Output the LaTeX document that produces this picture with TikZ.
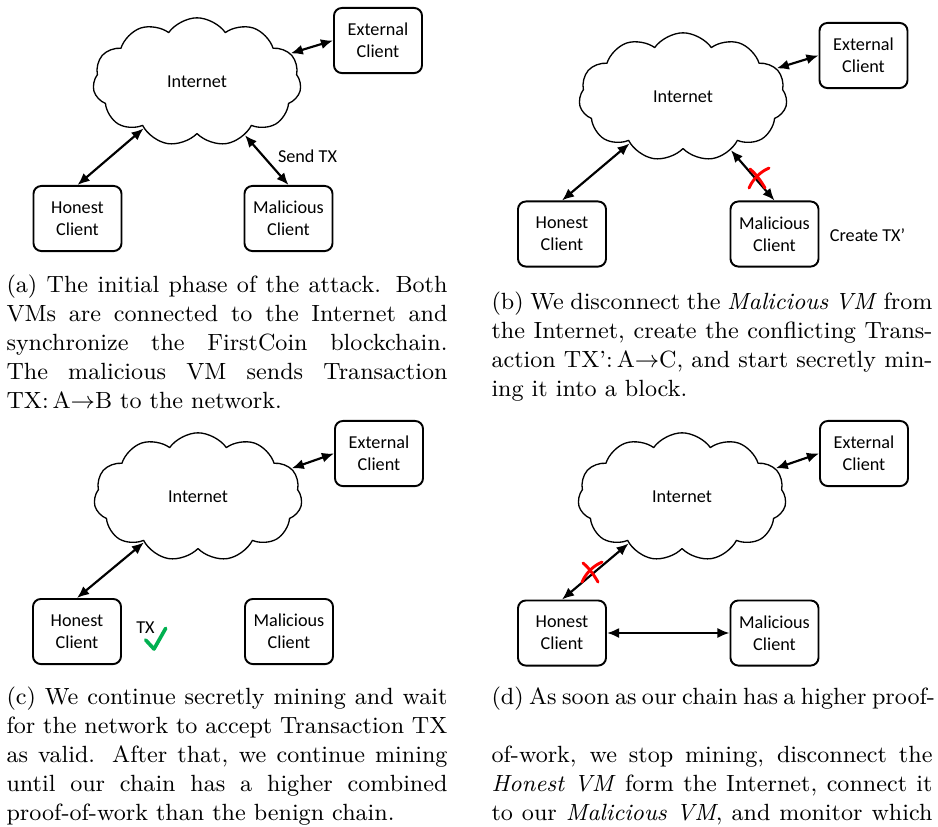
\documentclass[tikz,border=0pt]{standalone}
\usepackage{fontspec}
\newfontfamily\diafont{Carlito}
\usetikzlibrary{shapes.symbols,arrows.meta}
\definecolor{okgreen}{RGB}{0,176,80}
\definecolor{nogo}{RGB}{255,0,0}

\tikzset{
  client/.style={draw,line width=0.73pt,rounded corners=3pt,minimum width=33.4pt,minimum height=24.7pt,
    align=center,inner sep=0pt,font=\diafont\fontsize{6.9}{8.3}\selectfont},
  net/.style={cloud,draw,line width=0.5pt,cloud puffs=11,cloud puff arc=110,cloud ignores aspect,
    minimum width=79pt,minimum height=48.7pt,inner sep=0pt,font=\diafont\fontsize{6.9}{8.3}\selectfont},
  link/.style={{Latex[length=4.6pt,width=3.85pt]}-{Latex[length=4.6pt,width=3.85pt]},line width=0.82pt},
  lbl/.style={inner sep=0pt,font=\diafont\fontsize{6.9}{8.3}\selectfont},
  subcap/.style={anchor=north west,inner sep=0pt,text width=167.3pt,align=justify,font=\fontsize{8.9}{11}\selectfont},
  cross/.style={color=nogo,line width=1.1pt,line cap=round},
  tick/.style={color=okgreen,line width=1.38pt}
}

\begin{document}
\begin{tikzpicture}[line cap=round,line join=round,x=0.3794pt,y=-0.3794pt]
  \useasboundingbox (0,0) rectangle (938,826);
  % (a)
  \node[net] (cloudA) at (197,82) {Internet};
  \node[client] (extA) at (378,40.5) {External\\Client};
  \node[client] (honA) at (77.5,218.5) {Honest\\Client};
  \node[client] (malA) at (288.5,218.5) {Malicious\\Client};
  \draw[link] (honA.north) -- (cloudA.221);
  \draw[link] (malA.north) -- (cloudA.312);
  \draw[link] (cloudA.17) -- (extA.west);
  \node[lbl] (sendtx) at (307.5,156.7) {Send TX};
  \node[subcap] (capA) at (6,271.5) {\strut(a) The initial phase of the attack. Both\linebreak
    VMs are connected to the Internet and\linebreak synchronize the FirstCoin blockchain.\linebreak
    The malicious VM sends Transaction\linebreak TX:\,A$\rightarrow$B to the network.};
  % (b)
  \node[net] (cloudB) at (683,97) {Internet};
  \node[client] (extB) at (863.5,55.5) {External\\Client};
  \node[client] (honB) at (562,234) {Honest\\Client};
  \node[client] (malB) at (774.5,234) {Malicious\\Client};
  \draw[link] (honB.north) -- (cloudB.221);
  \draw[link] (malB.north) -- (cloudB.312);
  \draw[link] (cloudB.17) -- (extB.west);
  \node[lbl] (createtx) at (867.5,235) {Create TX’};
  \draw[cross,shift={(758,178)}] (-8,-9) .. controls (-2,-4) and (3,3) .. (7,10);
  \draw[cross,shift={(758,178)}] (-9,10) .. controls (-5,1) and (2,-6) .. (11,-10);
  \node[subcap] (capB) at (491,288.2) {\strut(b) We disconnect the \emph{Malicious VM} from\linebreak
    the Internet, create the conflicting Trans-\linebreak action TX':\,A$\rightarrow$C, and start secretly min-\linebreak
    ing it into a block.};
  % (c)
  \node[net] (cloudC) at (198,497) {Internet};
  \node[client] (extC) at (379,453.5) {External\\Client};
  \node[client] (honC) at (77,631.5) {Honest\\Client};
  \node[client] (malC) at (289,631.5) {Malicious\\Client};
  \draw[link] (honC.north) -- (cloudC.220);
  \draw[link] (cloudC.17) -- (extC.west);
  \node[lbl] (txok) at (145.5,627.5) {TX};
  \draw[tick] (145.7,640) -- (154,649) -- (165.7,628.3);
  \node[subcap] (capC) at (6,683.2) {\strut(c) We continue secretly mining and wait\linebreak
    for the network to accept Transaction TX\linebreak as valid. After that, we continue mining\linebreak
    until our chain has a higher combined\linebreak proof-of-work than the benign chain.};
  % (d)
  \node[net] (cloudD) at (682,497) {Internet};
  \node[client] (extD) at (864,453.5) {External\\Client};
  \node[client] (honD) at (562,633) {Honest\\Client};
  \node[client] (malD) at (774.5,633) {Malicious\\Client};
  \draw[link] (honD.north) -- (cloudD.221);
  \draw[link] (cloudD.17) -- (extD.west);
  \draw[link] (honD.east) -- (malD.west);
  \draw[cross,shift={(591,572)}] (-8,-9) .. controls (-2,-4) and (3,3) .. (7,10);
  \draw[cross,shift={(591,572)}] (-9,10) .. controls (-5,1) and (2,-6) .. (11,-10);
  \node[subcap] (capD) at (491,683.2) {\strut(d)~As~soon~as~our~chain~has~a~higher~proof-\linebreak
    of-work, we stop mining, disconnect the\linebreak \emph{Honest VM} form the Internet, connect it\linebreak
    to our \emph{Malicious VM}, and monitor which\linebreak chain will be accepted by the clients.};
\end{tikzpicture}
\end{document}
